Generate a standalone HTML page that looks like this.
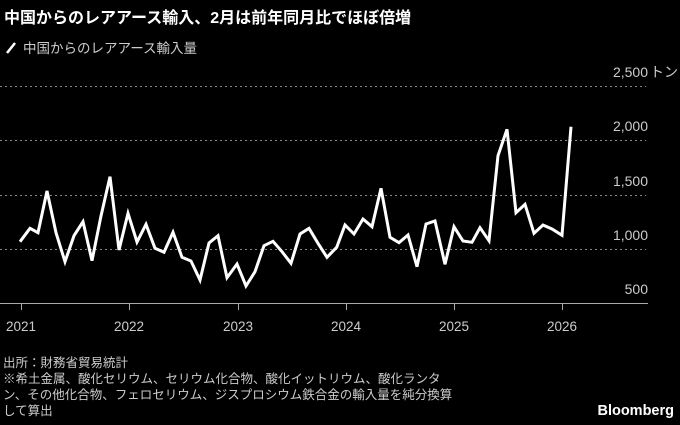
<!DOCTYPE html>
<html><head><meta charset="utf-8"><style>
body{margin:0;background:#000;width:680px;height:425px;overflow:hidden;font-family:"Liberation Sans","Noto Sans CJK JP",sans-serif;color:#fff}
svg{position:absolute;left:0;top:0}
</style></head><body>
<svg width="680" height="425" viewBox="0 0 680 425" font-family="Liberation Sans, Noto Sans CJK JP, sans-serif">
<text x="4" y="23" font-size="16" font-weight="bold" fill="#fff">中国からのレアアース輸入、2月は前年同月比でほぼ倍増</text>
<line x1="7" y1="53" x2="15" y2="43" stroke="#fff" stroke-width="2.5"/>
<text x="23" y="53" font-size="13.5" fill="#ccc">中国からのレアアース輸入量</text>
<g stroke="#888" stroke-width="1" stroke-dasharray="2,3">
<line x1="0" y1="86.5" x2="646" y2="86.5"/>
<line x1="0" y1="140.5" x2="646" y2="140.5"/>
<line x1="0" y1="195.5" x2="646" y2="195.5"/>
<line x1="0" y1="249.5" x2="646" y2="249.5"/>
</g>
<line x1="0" y1="303.5" x2="648" y2="303.5" stroke="#aaa" stroke-width="1"/>
<g stroke="#aaa" stroke-width="1">
<line x1="21.5" y1="304" x2="21.5" y2="310"/><line x1="129.5" y1="304" x2="129.5" y2="310"/><line x1="238.5" y1="304" x2="238.5" y2="310"/><line x1="346.5" y1="304" x2="346.5" y2="310"/><line x1="454.5" y1="304" x2="454.5" y2="310"/><line x1="562.5" y1="304" x2="562.5" y2="310"/>
</g>
<g font-size="13.5" fill="#ccc" text-anchor="middle">
<text x="21" y="331">2021</text><text x="129" y="331">2022</text><text x="238" y="331">2023</text><text x="346" y="331">2024</text><text x="454" y="331">2025</text><text x="562" y="331">2026</text>
</g>
<g font-size="14" fill="#ccc" text-anchor="end">
<text x="648" y="77">2,500</text><text x="648" y="131">2,000</text><text x="648" y="186">1,500</text><text x="648" y="240">1,000</text><text x="648" y="294">500</text>
</g>
<text x="650" y="77" font-size="14" fill="#ccc">トン</text>
<polyline fill="none" stroke="#fff" stroke-width="3" stroke-linejoin="miter" points="
20,241.7 30,228.3 38,232.7 47,191 56,232.7 65,261.7 74,235.7 83,221.7 92,260.7 101,216 110,176.7 119,250 128,213.3 137,242 146,224.3 155,248.3 164,252.3 173,232.3 182,257.3 191,261 200,280 209,243 218,235.7 227,277.7 237,264 246,286 255,271.7 264,245.7 273,241.3 282,251.7 291,263.3 300,234 309,228.3 318,243.3 327,257.3 336.7,247.3 345,225 354,234 363,219 372,226.7 381,188.3 390,237.3 399,242.7 408,235 417,266.7 426,224 435,221 445,264.3 454,226.7 463,241 472,242.3 480,227.7 489,240.7 498,155.7 507,129.3 516,212.7 525,204.3 534,233.3 543,225 552,229 562,235.3 571,126.7"/>
<g font-size="12.5" fill="#ccc">
<text x="3" y="367">出所：財務省貿易統計</text>
<text x="3" y="383">※希土金属、酸化セリウム、セリウム化合物、酸化イットリウム、酸化ランタ</text>
<text x="3" y="399">ン、その他化合物、フェロセリウム、ジスプロシウム鉄合金の輸入量を純分換算</text>
<text x="3" y="415">して算出</text>
</g>
<text x="674" y="415" font-size="14.5" font-weight="bold" fill="#fff" text-anchor="end">Bloomberg</text>
</svg>
</body></html>
